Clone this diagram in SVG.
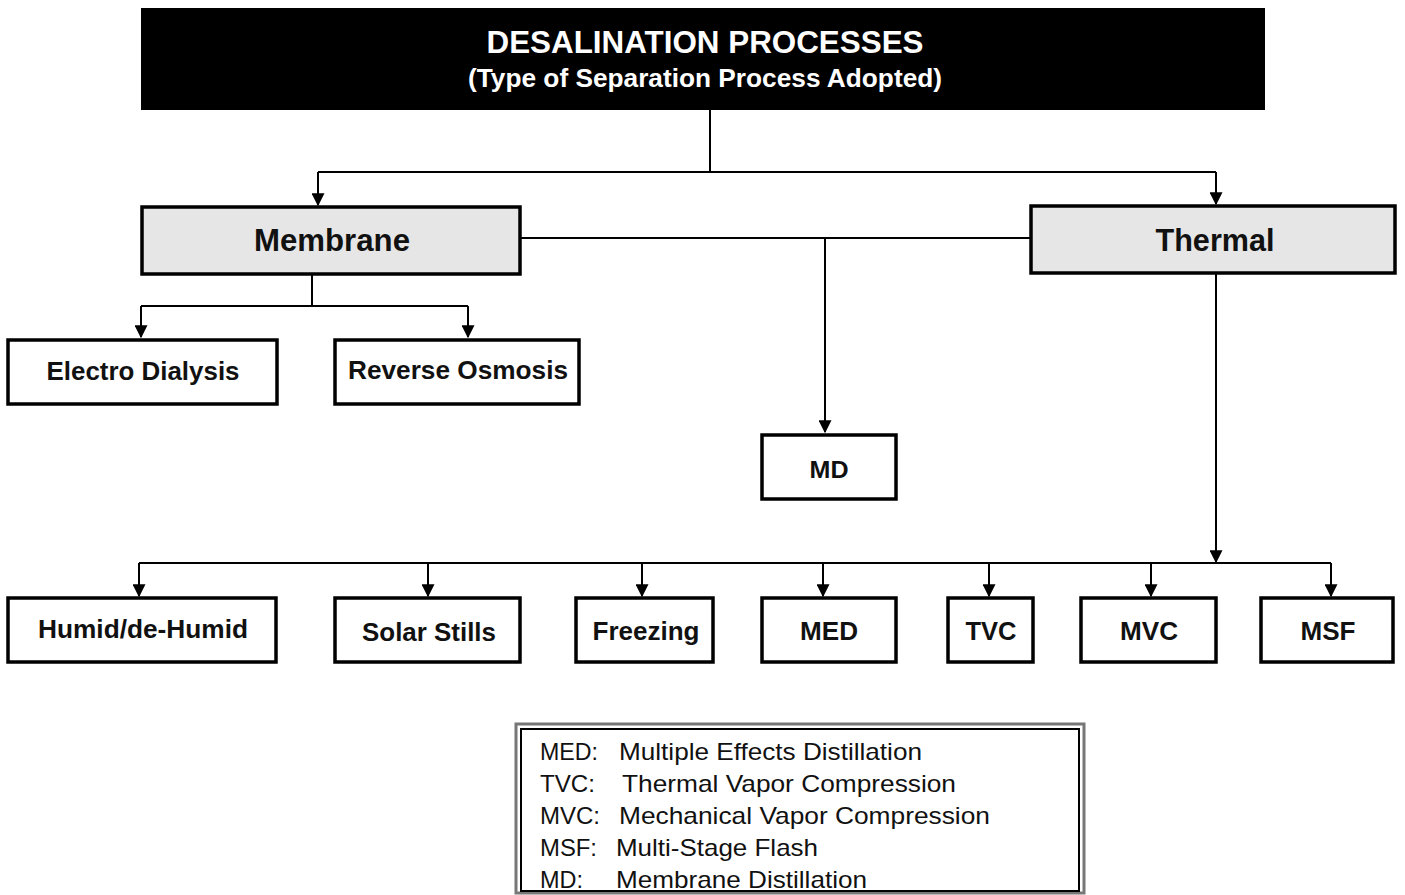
<svg xmlns="http://www.w3.org/2000/svg" width="1405" height="895" viewBox="0 0 1405 895">
<defs>
<marker id="arrb" viewBox="0 0 10 10" refX="9" refY="5" markerWidth="14" markerHeight="13" markerUnits="userSpaceOnUse" orient="auto">
<path d="M0,0 L10,5 L0,10 z" fill="#000"/>
</marker>
</defs>
<style>
.box{fill:#fff;stroke:#000;stroke-width:3.5}
.gbox{fill:#e6e6e6;stroke:#000;stroke-width:3.5}
.lbl{font-family:"Liberation Sans",Arial,sans-serif;font-weight:bold;fill:#111;text-anchor:middle}
.big{font-size:31px}
.mid{font-size:25px}
.leg{font-family:"Liberation Sans",Arial,sans-serif;font-size:24px;fill:#111}
.c{fill:none;stroke:#000;stroke-width:2}
</style>
<rect width="1405" height="895" fill="#fff"/>

<g id="connectors">
<path class="c" d="M710,110 V172"/>
<path class="c" d="M318,172 H1216"/>
<path class="c" d="M318,172 V205" marker-end="url(#arrb)"/>
<path class="c" d="M1216,172 V204" marker-end="url(#arrb)"/>
<path class="c" d="M520,238 H1031"/>
<path class="c" d="M825,238 V432" marker-end="url(#arrb)"/>
<path class="c" d="M312,274 V306"/>
<path class="c" d="M141,306 H468"/>
<path class="c" d="M141,306 V337" marker-end="url(#arrb)"/>
<path class="c" d="M468,306 V337" marker-end="url(#arrb)"/>
<path class="c" d="M1216,273 V562" marker-end="url(#arrb)"/>
<path class="c" d="M139,563 H1331"/>
<path class="c" d="M139,563 V596" marker-end="url(#arrb)"/>
<path class="c" d="M428,563 V596" marker-end="url(#arrb)"/>
<path class="c" d="M642,563 V596" marker-end="url(#arrb)"/>
<path class="c" d="M823,563 V596" marker-end="url(#arrb)"/>
<path class="c" d="M989,563 V596" marker-end="url(#arrb)"/>
<path class="c" d="M1151,563 V596" marker-end="url(#arrb)"/>
<path class="c" d="M1331,563 V596" marker-end="url(#arrb)"/>
</g>

<g id="title">
<rect x="141" y="8" width="1124" height="102" fill="#000"/>
<text x="705" y="53" class="lbl" style="fill:#fff;font-size:31px" textLength="437" lengthAdjust="spacingAndGlyphs">DESALINATION PROCESSES</text>
<text x="705" y="87" class="lbl" style="fill:#fff;font-size:25px" textLength="474" lengthAdjust="spacingAndGlyphs">(Type of Separation Process Adopted)</text>
</g>

<g id="membrane">
<rect class="gbox" x="142" y="207" width="378" height="67"/>
<text x="332" y="251" class="lbl big" textLength="156" lengthAdjust="spacingAndGlyphs">Membrane</text>
</g>
<g id="thermal">
<rect class="gbox" x="1031" y="206" width="364" height="67"/>
<text x="1215" y="251" class="lbl big" textLength="119" lengthAdjust="spacingAndGlyphs">Thermal</text>
</g>

<g id="electro-dialysis">
<rect class="box" x="8" y="340" width="269" height="64"/>
<text x="143" y="380" class="lbl mid" textLength="193" lengthAdjust="spacingAndGlyphs">Electro Dialysis</text>
</g>
<g id="reverse-osmosis">
<rect class="box" x="335" y="340" width="244" height="64"/>
<text x="458" y="379" class="lbl mid" textLength="220" lengthAdjust="spacingAndGlyphs">Reverse Osmosis</text>
</g>
<g id="md">
<rect class="box" x="762" y="435" width="134" height="64"/>
<text x="829" y="478" class="lbl" style="font-size:23px" textLength="39" lengthAdjust="spacingAndGlyphs">MD</text>
</g>

<g id="humid">
<rect class="box" x="8" y="598" width="268" height="64"/>
<text x="143" y="638" class="lbl mid" textLength="210" lengthAdjust="spacingAndGlyphs">Humid/de-Humid</text>
</g>
<g id="solar-stills">
<rect class="box" x="335" y="598" width="185" height="64"/>
<text x="429" y="641" class="lbl mid" textLength="134" lengthAdjust="spacingAndGlyphs">Solar Stills</text>
</g>
<g id="freezing">
<rect class="box" x="576" y="598" width="137" height="64"/>
<text x="646" y="640" class="lbl mid" textLength="107" lengthAdjust="spacingAndGlyphs">Freezing</text>
</g>
<g id="med">
<rect class="box" x="762" y="598" width="134" height="64"/>
<text x="829" y="640" class="lbl mid" textLength="58" lengthAdjust="spacingAndGlyphs">MED</text>
</g>
<g id="tvc">
<rect class="box" x="948" y="598" width="85" height="64"/>
<text x="991" y="640" class="lbl mid" textLength="51" lengthAdjust="spacingAndGlyphs">TVC</text>
</g>
<g id="mvc">
<rect class="box" x="1081" y="598" width="135" height="64"/>
<text x="1149" y="640" class="lbl mid" textLength="58" lengthAdjust="spacingAndGlyphs">MVC</text>
</g>
<g id="msf">
<rect class="box" x="1261" y="598" width="132" height="64"/>
<text x="1328" y="640" class="lbl mid" textLength="55" lengthAdjust="spacingAndGlyphs">MSF</text>
</g>

<g id="legend">
<rect x="516" y="724" width="568" height="169" fill="#fff" stroke="#777" stroke-width="3"/>
<rect x="521" y="729" width="558" height="162" fill="none" stroke="#000" stroke-width="2"/>
<text class="leg" x="540" y="760" textLength="58" lengthAdjust="spacingAndGlyphs">MED:</text>
<text class="leg" x="619" y="760" textLength="303" lengthAdjust="spacingAndGlyphs">Multiple Effects Distillation</text>
<text class="leg" x="540" y="792" textLength="55" lengthAdjust="spacingAndGlyphs">TVC:</text>
<text class="leg" x="622" y="792" textLength="334" lengthAdjust="spacingAndGlyphs">Thermal Vapor Compression</text>
<text class="leg" x="540" y="824" textLength="60" lengthAdjust="spacingAndGlyphs">MVC:</text>
<text class="leg" x="619" y="824" textLength="371" lengthAdjust="spacingAndGlyphs">Mechanical Vapor Compression</text>
<text class="leg" x="540" y="856" textLength="57" lengthAdjust="spacingAndGlyphs">MSF:</text>
<text class="leg" x="616" y="856" textLength="202" lengthAdjust="spacingAndGlyphs">Multi-Stage Flash</text>
<text class="leg" x="540" y="888" textLength="43" lengthAdjust="spacingAndGlyphs">MD:</text>
<text class="leg" x="616" y="888" textLength="251" lengthAdjust="spacingAndGlyphs">Membrane Distillation</text>
</g>
</svg>
